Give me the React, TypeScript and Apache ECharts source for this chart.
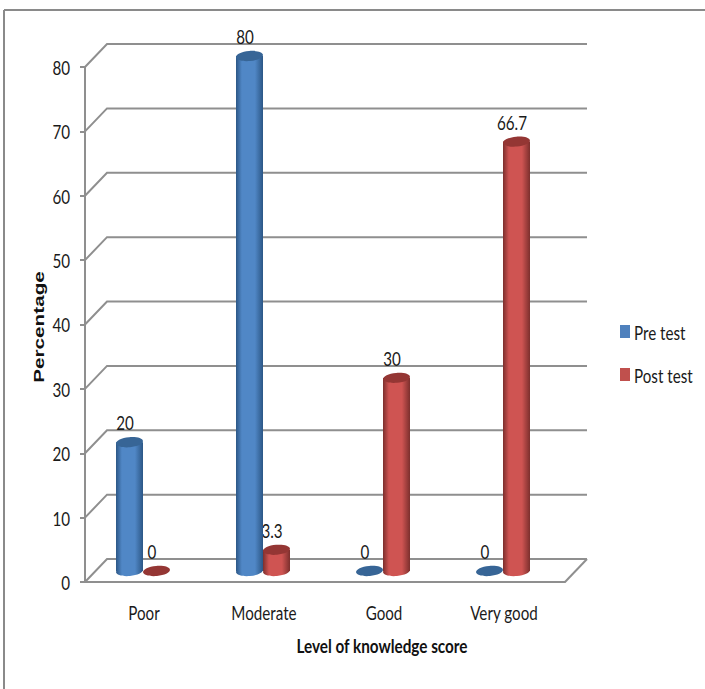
import React, { useEffect, useRef } from "react";
import * as echarts from "echarts";

const categories = ["Poor", "Moderate", "Good", "Very good"];
const preTest = [20, 80, 0, 0];
const postTest = [0, 3.3, 30, 66.7];
const valueTicks = [0, 10, 20, 30, 40, 50, 60, 70, 80];
const legendNames = ["Pre test", "Post test"];
const legendColors = ["#4f81bd", "#c0504d"];

const BODY_FONT = "Lato, sans-serif";
const LINE = "#8f8f8f";
const INK = "#1a1a1a";

// Horizontal squeeze that gives Lato the condensed look of the chart's typeface.
const SQUEEZE = 0.76;

// Depth of the box behind the front plane, and where the columns stand inside it.
const DEPTH_X = 22;
const DEPTH_Y = -23;
const COLUMN_SHIFT_X = -2;
const COLUMN_SHIFT_Y = -11;
const COLUMN_W = 27;
const CAP_RY = 5;

const palette = {
  pre: { edge: "#2c5786", mid: "#5087c6", cap: "#376596" },
  post: { edge: "#7c2f2d", mid: "#cf5452", cap: "#943634" },
};

function shade(c: { edge: string; mid: string }) {
  return new echarts.graphic.LinearGradient(0, 0, 1, 0, [
    { offset: 0, color: c.edge },
    { offset: 0.22, color: c.mid },
    { offset: 0.7, color: c.mid },
    { offset: 1, color: c.edge },
  ]);
}

function squeezedText(text: string, x: number, y: number, align = "center") {
  return {
    type: "text",
    x,
    y,
    scaleX: SQUEEZE,
    style: {
      text,
      fill: INK,
      fontFamily: BODY_FONT,
      fontSize: 20,
      align,
      verticalAlign: "middle",
    },
  };
}

// Floor, back wall and side wall lines for one value tick, plus its label.
function renderWall(params: any, api: any) {
  const box = params.coordSys;
  const tick = api.value(1);
  const y = api.coord([0, tick])[1];
  const x0 = box.x;
  const x1 = box.x + box.width;
  const children: any[] = [
    {
      type: "polyline",
      shape: { points: [[x0, y], [x0 + DEPTH_X, y + DEPTH_Y], [x1 + DEPTH_X, y + DEPTH_Y]] },
      style: { stroke: LINE, lineWidth: 2, fill: null },
    },
    squeezedText(String(tick), x0 - 15, y, "right"),
  ];
  if (tick === 0) {
    children.push({
      type: "line",
      shape: { x1, y1: y, x2: x1 + DEPTH_X, y2: y + DEPTH_Y },
      style: { stroke: LINE, lineWidth: 2 },
    });
  }
  return { type: "group", children };
}

function renderCategoryLabel(_params: any, api: any) {
  const i = api.value(0);
  const p = api.coord([i, 0]);
  return squeezedText(categories[i], p[0] - 1, p[1] + 30);
}

// One cylinder; -1 puts it left of the category centre, +1 right of it.
function cylinder(side: number, colors: typeof palette.pre) {
  return (_params: any, api: any) => {
    const v = api.value(1);
    const top = api.coord([api.value(0), v]);
    const base = api.coord([api.value(0), 0]);
    const cx = top[0] + COLUMN_SHIFT_X + (side * COLUMN_W) / 2;
    const yTop = top[1] + COLUMN_SHIFT_Y;
    const yBase = base[1] + COLUMN_SHIFT_Y;
    const tilt = 0.09;
    const cap = (cy: number, fill: any) => ({
      type: "ellipse",
      x: cx,
      y: cy,
      rotation: tilt,
      shape: { cx: 0, cy: 0, rx: COLUMN_W / 2, ry: CAP_RY },
      style: { fill },
    });
    if (v === 0) {
      return { type: "group", children: [cap(yBase, colors.cap)] };
    }
    return {
      type: "group",
      children: [
        cap(yBase, shade(colors)),
        {
          type: "rect",
          shape: { x: cx - COLUMN_W / 2, y: yTop, width: COLUMN_W, height: yBase - yTop },
          style: { fill: shade(colors) },
        },
        cap(yTop, colors.cap),
      ],
    };
  };
}

// Value label above a column, drawn behind the columns themselves.
function renderLabel(_params: any, api: any) {
  const side = api.value(2);
  const v = api.value(1);
  const p = api.coord([api.value(0), v]);
  return squeezedText(
    String(v),
    p[0] + COLUMN_SHIFT_X + (side * COLUMN_W) / 2 - 4.5,
    p[1] + COLUMN_SHIFT_Y - 20
  );
}

export default function App() {
  const ref = useRef<HTMLDivElement>(null);

  useEffect(() => {
    const chart = echarts.init(ref.current!, undefined, { renderer: "svg" });
    chart.setOption({
      animation: false,
      backgroundColor: "#ffffff",
      grid: { left: 85, top: 67, width: 480, height: 515 },
      xAxis: {
        type: "category",
        data: categories,
        axisLine: { show: true, lineStyle: { color: LINE, width: 2 } },
        axisTick: { show: false },
        axisLabel: { show: false },
      },
      yAxis: {
        type: "value",
        min: 0,
        max: 80,
        interval: 10,
        splitLine: { show: false },
        axisLine: { show: true, lineStyle: { color: LINE, width: 2 } },
        axisTick: { show: true, length: 5, lineStyle: { color: LINE, width: 2 } },
        axisLabel: { show: false },
      },
      series: [
        {
          type: "custom",
          name: "walls",
          z: 1,
          silent: true,
          renderItem: renderWall,
          encode: { x: 0, y: 1 },
          data: valueTicks.map((t) => [0, t]),
        },
        {
          type: "custom",
          name: "category labels",
          z: 1,
          silent: true,
          renderItem: renderCategoryLabel,
          encode: { x: 0, y: 1 },
          data: categories.map((_, i) => [i, 0]),
        },
        {
          type: "custom",
          name: "labels",
          z: 2,
          silent: true,
          renderItem: renderLabel,
          encode: { x: 0, y: 1 },
          data: [
            ...preTest.map((v, i) => [i, v, -1]),
            ...postTest.map((v, i) => [i, v, 1]),
          ],
        },
        {
          type: "custom",
          name: legendNames[0],
          z: 3,
          silent: true,
          renderItem: cylinder(-1, palette.pre),
          encode: { x: 0, y: 1 },
          data: preTest.map((v, i) => [i, v]),
        },
        {
          type: "custom",
          name: legendNames[1],
          z: 3,
          silent: true,
          renderItem: cylinder(1, palette.post),
          encode: { x: 0, y: 1 },
          data: postTest.map((v, i) => [i, v]),
        },
      ],
      graphic: [
        // Chart frame: only the top and left edges fall inside the page.
        { type: "line", shape: { x1: 4, y1: 10, x2: 705, y2: 10 }, style: { stroke: "#8a8a8a", lineWidth: 2 } },
        { type: "line", shape: { x1: 4, y1: 10, x2: 4, y2: 689 }, style: { stroke: "#8a8a8a", lineWidth: 2 } },
        // Legend
        ...legendNames.flatMap((name, i) => [
          {
            type: "rect",
            shape: { x: 620, y: 325 + i * 43, width: 10, height: 13 },
            style: { fill: legendColors[i] },
          },
          squeezedText(name, 634, 332 + i * 43, "left"),
        ]),
        {
          type: "text",
          x: 382,
          y: 647,
          scaleX: 0.85,
          style: {
            text: "Level of knowledge score",
            fill: "#111111",
            fontFamily: BODY_FONT,
            fontWeight: "bold",
            fontSize: 18,
            align: "center",
            verticalAlign: "middle",
          },
        },
        {
          type: "text",
          x: 39,
          y: 327,
          rotation: Math.PI / 2,
          scaleX: 1.38,
          style: {
            text: "Percentage",
            fill: "#111111",
            fontFamily: '"Liberation Sans", sans-serif',
            fontWeight: "bold",
            fontSize: 15,
            align: "center",
            verticalAlign: "middle",
          },
        },
      ],
    });
    return () => chart.dispose();
  }, []);

  return <div ref={ref} style={{ position: "absolute", left: 0, top: 0, width: 705, height: 689 }} />;
}
